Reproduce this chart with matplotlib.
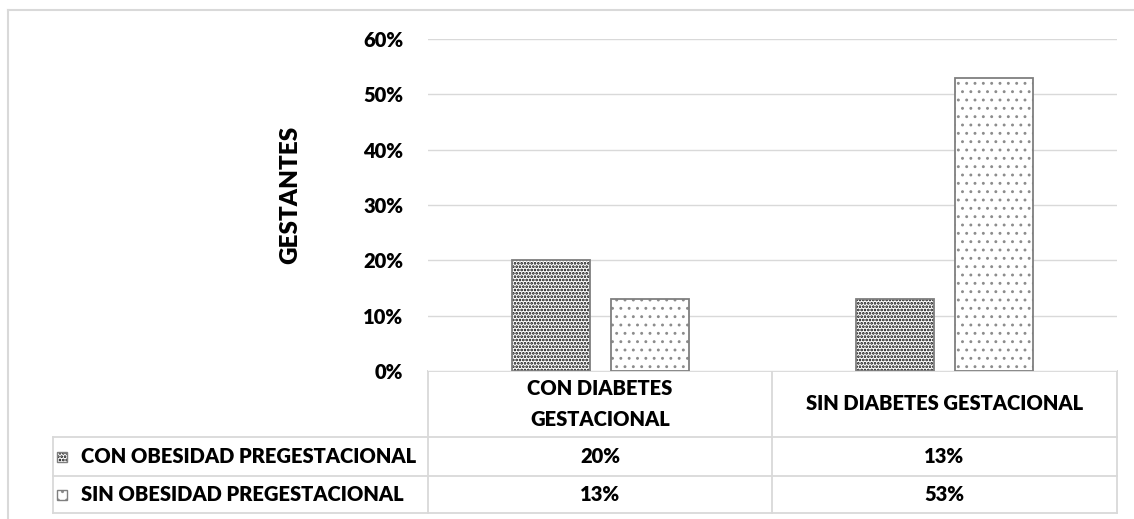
import matplotlib
matplotlib.use("Agg")
import matplotlib.pyplot as plt
from matplotlib.patches import Rectangle
from matplotlib.lines import Line2D
import numpy as np

plt.rcParams["font.family"] = ["Lato", "DejaVu Sans"]

# data
categories = ["CON DIABETES\nGESTACIONAL", "SIN DIABETES GESTACIONAL"]
series_names = ["CON OBESIDAD PREGESTACIONAL", "SIN OBESIDAD PREGESTACIONAL"]
con_obesidad = [0.20, 0.13]
sin_obesidad = [0.13, 0.53]
y_ticks = [0.0, 0.1, 0.2, 0.3, 0.4, 0.5, 0.6]
y_label = "GESTANTES"

W, H = 1134, 519
FS = 14.5
WT = "heavy"
GRID = "#d9d9d9"
EDGE = "#7f7f7f"
# hatch, hatch colour, hatch line width per series
styles = [(".....", "black", 1.3), ("..", "#8c8c8c", 0.9)]

fig = plt.figure(figsize=(W / 100, H / 100), dpi=100)

# plot area (pixel box 428..1117 x 39..371)
px_l, px_r, px_t, px_b = 428, 1117, 39, 371
ax = fig.add_axes([px_l / W, 1 - px_b / H, (px_r - px_l) / W, (px_b - px_t) / H])

x = np.arange(len(categories))
bw = 0.227
off = 0.144
for vals, shift, (hatch, hc, hlw) in zip([con_obesidad, sin_obesidad], [-off, off], styles):
    with plt.rc_context({"hatch.linewidth": hlw}):
        ax.bar(x + shift, vals, bw, color="white", edgecolor=hc, hatch=hatch,
               linewidth=0, zorder=2)
    ax.bar(x + shift, vals, bw, fill=False, edgecolor=EDGE, linewidth=1.3, zorder=3)

ax.set_xlim(-0.5, len(categories) - 0.5)
ax.set_ylim(0, 0.6)
ax.set_yticks(y_ticks)
ax.set_yticklabels([f"{v:.0%}" for v in y_ticks], fontsize=FS, fontweight=WT)
ax.set_xticks([])
ax.tick_params(axis="y", length=0, pad=18)
ax.yaxis.grid(True, color=GRID, linewidth=1.0, zorder=0)
ax.set_axisbelow(True)
for sp in ax.spines.values():
    sp.set_visible(False)
ax.set_ylabel(y_label, fontsize=17.5, fontweight=WT)
ax.yaxis.set_label_coords((301 - px_l) / (px_r - px_l), (px_b - 195) / (px_b - px_t))

# overlay in pixel coordinates for the data table and the outer frame
ov = fig.add_axes([0, 0, 1, 1], zorder=-1)
ov.set_xlim(0, W)
ov.set_ylim(H, 0)
ov.axis("off")

# outer chart frame
ov.add_line(Line2D([8, 8], [10, H], color=GRID, linewidth=1.5))
ov.add_line(Line2D([8, W], [10, 10], color=GRID, linewidth=1.5))

tab_l = 53
row_edges = [371, 437, 476, 513]
col_edges = [px_l, 772, px_r]
lw = 1.3
# horizontal rules
ov.add_line(Line2D([px_l, px_r], [row_edges[0]] * 2, color=GRID, linewidth=lw))
for yy in row_edges[1:]:
    ov.add_line(Line2D([tab_l, px_r], [yy] * 2, color=GRID, linewidth=lw))
# vertical rules
ov.add_line(Line2D([tab_l, tab_l], [row_edges[1], row_edges[-1]], color=GRID, linewidth=lw))
for xx in col_edges:
    ov.add_line(Line2D([xx, xx], [row_edges[0], row_edges[-1]], color=GRID, linewidth=lw))

col_centers = [(a + b) / 2 for a, b in zip(col_edges[:-1], col_edges[1:])]
hdr_y = (row_edges[0] + row_edges[1]) / 2
for cx, cat in zip(col_centers, categories):
    ov.text(cx, hdr_y, cat, ha="center", va="center", fontsize=FS,
            fontweight=WT, linespacing=1.75)

for r, (name, vals, (hatch, hc, hlw)) in enumerate(zip(series_names,
                                                        [con_obesidad, sin_obesidad], styles)):
    cy = (row_edges[r + 1] + row_edges[r + 2]) / 2
    with plt.rc_context({"hatch.linewidth": hlw}):
        key = Rectangle((57, cy - 5), 10, 10, facecolor="white", edgecolor=hc,
                        hatch=hatch, linewidth=0)
    ov.add_patch(key)
    ov.add_patch(Rectangle((57, cy - 5), 10, 10, fill=False, edgecolor=EDGE, linewidth=1.0))
    ov.text(81, cy, name, ha="left", va="center", fontsize=FS, fontweight=WT)
    for cx, v in zip(col_centers, vals):
        ov.text(cx, cy, f"{v:.0%}", ha="center", va="center", fontsize=FS,
                fontweight=WT)

fig.savefig("out.png", dpi=100)
